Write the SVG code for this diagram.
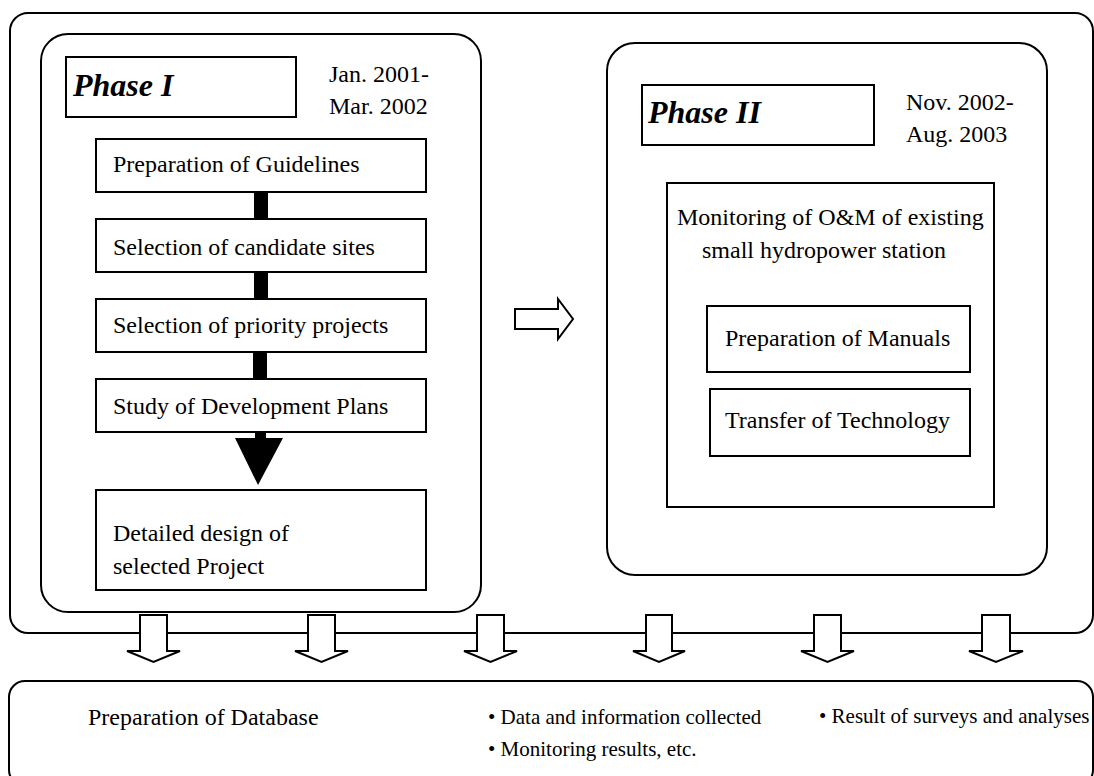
<svg xmlns="http://www.w3.org/2000/svg" width="1094" height="776" viewBox="0 0 1094 776">
<style>
text{font-family:"Liberation Serif","Times New Roman",serif;fill:#000;font-size:24px}
.ph{font-weight:bold;font-style:italic;font-size:32px}
.sm{font-size:21px}
.frame{fill:none;stroke:#000;stroke-width:2}
.box{fill:#fff;stroke:#000;stroke-width:2}
.bar{fill:#000;stroke:none}
.harrow{fill:#fff;stroke:#000;stroke-width:2;stroke-linejoin:miter}
</style>
<rect width="1094" height="776" fill="#fff"/>
<g id="outer"><rect class="frame" x="10" y="13" width="1083" height="620" rx="18"/></g>
<g id="phase1">
<rect class="frame" x="41" y="34" width="440" height="578" rx="27"/>
<g id="phase1-label"><rect class="box" x="66" y="57" width="230" height="60"/><text class="ph" x="73" y="96">Phase I</text></g>
<g id="phase1-dates"><text x="329" y="82">Jan. 2001-</text><text x="329" y="114">Mar. 2002</text></g>
</g>
<g id="connectors">
<rect class="bar" x="254" y="191" width="14" height="29"/>
<rect class="bar" x="254" y="271" width="14" height="29"/>
<rect class="bar" x="253" y="351" width="14" height="29"/>
<rect class="bar" x="255" y="431" width="11" height="8"/>
<polygon class="bar" points="235,438 283,438 258,485"/>
<polygon class="harrow" points="515,309 558,309 558,299 573,319 558,339 558,329 515,329"/>
<polygon class="harrow" points="140,615 167,615 167,651 180,651 153.5,662 127,651 140,651"/>
<polygon class="harrow" points="308,615 335,615 335,651 348,651 321.5,662 295,651 308,651"/>
<polygon class="harrow" points="477,615 504,615 504,651 517,651 490.5,662 464,651 477,651"/>
<polygon class="harrow" points="646,615 672,615 672,651 685,651 659,662 633,651 646,651"/>
<polygon class="harrow" points="814,615 841,615 841,651 854,651 827.5,662 801,651 814,651"/>
<polygon class="harrow" points="982,615 1010,615 1010,651 1023,651 996,662 969,651 982,651"/>
</g>
<g id="n1"><rect class="box" x="96" y="139" width="330" height="53"/><text x="113" y="172">Preparation of Guidelines</text></g>
<g id="n2"><rect class="box" x="96" y="219" width="330" height="53"/><text x="113" y="255">Selection of candidate sites</text></g>
<g id="n3"><rect class="box" x="96" y="299" width="330" height="53"/><text x="113" y="333">Selection of priority projects</text></g>
<g id="n4"><rect class="box" x="96" y="379" width="330" height="53"/><text x="113" y="414">Study of Development Plans</text></g>
<g id="n5"><rect class="box" x="96" y="490" width="330" height="100"/><text x="113" y="541">Detailed design of</text><text x="113" y="574">selected Project</text></g>
<g id="phase2">
<rect class="frame" x="607" y="43" width="440" height="532" rx="28"/>
<g id="phase2-label"><rect class="box" x="642" y="85" width="232" height="60"/><text class="ph" x="648" y="123">Phase II</text></g>
<g id="phase2-dates"><text x="906" y="110">Nov. 2002-</text><text x="906" y="142">Aug. 2003</text></g>
</g>
<g id="monitoring"><rect class="box" x="667" y="183" width="327" height="324"/><text x="677" y="225">Monitoring of O&amp;M of existing</text><text x="702" y="258">small hydropower station</text></g>
<g id="manuals"><rect class="box" x="707" y="306" width="263" height="66"/><text x="725" y="346">Preparation of Manuals</text></g>
<g id="transfer"><rect class="box" x="710" y="389" width="260" height="67"/><text x="725" y="428">Transfer of Technology</text></g>
<g id="database">
<rect class="frame" x="9" y="681" width="1084" height="105" rx="16"/>
<text x="88" y="725">Preparation of Database</text>
<text class="sm" x="488" y="724">• Data and information collected</text>
<text class="sm" x="488" y="756">• Monitoring results, etc.</text>
<text class="sm" x="819" y="723">• Result of surveys and analyses</text>
</g>
</svg>
